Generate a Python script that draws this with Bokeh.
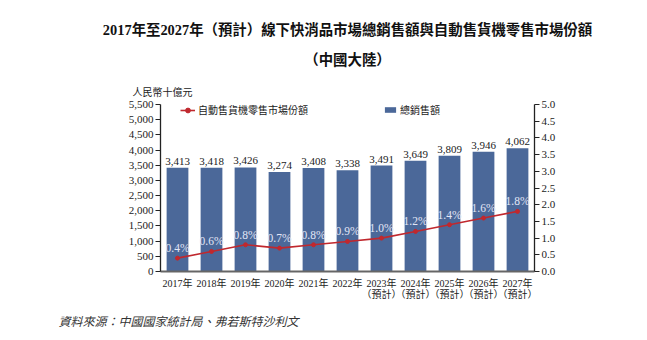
from bokeh.plotting import figure
from bokeh.models import (Range1d, LinearAxis, Title, Legend, LegendItem,
                          ColumnDataSource, FixedTicker, NumeralTickFormatter)
from bokeh.core.properties import value
from bokeh.embed import file_html
from bokeh.resources import INLINE

# ---- data ----
years = ["2017年", "2018年", "2019年", "2020年", "2021年", "2022年",
         "2023年", "2024年", "2025年", "2026年", "2027年"]
forecast = [False, False, False, False, False, False, True, True, True, True, True]
sales = [3413, 3418, 3426, 3274, 3408, 3338, 3491, 3649, 3809, 3946, 4062]
share = [0.4, 0.6, 0.8, 0.7, 0.8, 0.9, 1.0, 1.2, 1.4, 1.6, 1.8]
left_ticks = [0, 500, 1000, 1500, 2000, 2500, 3000, 3500, 4000, 4500, 5000, 5500]
right_ticks = [0, 0.5, 1.0, 1.5, 2.0, 2.5, 3.0, 3.5, 4.0, 4.5, 5.0]

title1 = "2017年至2027年（預計）線下快消品市場總銷售額與自動售貨機零售市場份額"
title2 = "（中國大陸）"
unit_label = "人民幣十億元"
source_note = "資料來源：中國國家統計局、弗若斯特沙利文"
bar_name = "總銷售額"
line_name = "自動售貨機零售市場份額"

SERIF = "Liberation Serif, Noto Sans CJK TC"
BAR_COLOR = "#4b6899"
LINE_COLOR = "#c0282e"

xs = list(range(len(years)))
src = ColumnDataSource(dict(
    x=xs, sales=sales, share=share,
    sales_txt=[f"{v:,}" for v in sales],
    share_txt=[f"{v:.1f}%" for v in share],
))

p = figure(width=647, height=340, output_backend="svg", toolbar_location=None,
           x_range=Range1d(-0.5, len(years) - 0.5), y_range=Range1d(0, 5500),
           min_border_left=160, min_border_right=113,
           min_border_top=104, min_border_bottom=69)
p.outline_line_color = None
p.grid.visible = False
p.background_fill_color = "white"
p.border_fill_color = "white"

p.extra_y_ranges = {"pct": Range1d(0, 5.0)}

bars = p.vbar(x="x", top="sales", width=0.64, source=src,
              fill_color=BAR_COLOR, line_color=None)
line = p.line(x="x", y="share", source=src, y_range_name="pct",
              line_color=LINE_COLOR, line_width=1.6)
pts = p.scatter(x="x", y="share", source=src, y_range_name="pct",
                size=4, fill_color=LINE_COLOR, line_color=LINE_COLOR)

p.text(x="x", y="sales", text="sales_txt", source=src,
       text_font=value("Liberation Serif"), text_font_size="11px",
       text_color="#222222", text_align="center", text_baseline="bottom",
       y_offset=-3)
p.text(x="x", y="share", text="share_txt", source=src, y_range_name="pct",
       text_font=value("Liberation Serif"), text_font_size="11.5px",
       text_color="#e2e6f6", text_align="center", text_baseline="bottom",
       y_offset=-4)

# axes
xa = p.xaxis[0]
xa.ticker = FixedTicker(ticks=xs)
xa.major_label_overrides = {i: (y + "\n（預計）" if f else y)
                            for i, (y, f) in enumerate(zip(years, forecast))}
xa.major_tick_line_color = None
xa.minor_tick_line_color = None
xa.axis_line_color = "#666666"
xa.axis_line_width = 2
xa.major_label_text_font = SERIF
xa.major_label_text_font_size = "10px"
xa.major_label_text_line_height = 1.0
xa.major_label_text_color = "#222222"
xa.major_label_standoff = 0

ya = p.yaxis[0]
ya.ticker = FixedTicker(ticks=left_ticks)
ya.formatter = NumeralTickFormatter(format="0,0")
ya.minor_tick_line_color = None
ya.major_tick_in = 0
ya.major_tick_out = 5
ya.axis_line_color = "#222222"
ya.major_tick_line_color = "#222222"
ya.axis_line_width = 1.3
ya.major_label_text_font = SERIF
ya.major_label_text_font_size = "11px"
ya.major_label_text_color = "#222222"
ya.major_label_standoff = 2

ra = LinearAxis(y_range_name="pct", ticker=FixedTicker(ticks=right_ticks),
                formatter=NumeralTickFormatter(format="0.0"))
ra.minor_tick_line_color = None
ra.major_tick_in = 0
ra.major_tick_out = 5
ra.axis_line_color = "#222222"
ra.major_tick_line_color = "#222222"
ra.axis_line_width = 1.3
ra.major_label_text_font = SERIF
ra.major_label_text_font_size = "11px"
ra.major_label_text_color = "#222222"
ra.major_label_standoff = 2
p.add_layout(ra, "right")

# legends (inside the frame)
leg1 = Legend(items=[LegendItem(label=line_name, renderers=[line, pts])],
              location=(20, 154), orientation="horizontal",
              border_line_color=None, background_fill_alpha=0,
              padding=0, margin=0, spacing=0, label_standoff=3,
              glyph_width=15, glyph_height=12,
              label_text_font=SERIF, label_text_font_size="10px",
              label_text_color="#222222")
leg2 = Legend(items=[LegendItem(label=bar_name, renderers=[bars])],
              location=(223, 154), orientation="horizontal",
              border_line_color=None, background_fill_alpha=0,
              padding=0, margin=0, spacing=0, label_standoff=3,
              glyph_width=14, glyph_height=7,
              label_text_font=SERIF, label_text_font_size="10px",
              label_text_color="#222222")
p.add_layout(leg1)
p.add_layout(leg2)

# titles (later-added goes further from the frame)
p.add_layout(Title(text=unit_label, align="left", offset=-28,
                   text_font=SERIF, text_font_size="10px",
                   text_font_style="normal", text_color="#222222",
                   standoff=14), "above")
p.add_layout(Title(text=title2, align="center", offset=-5,
                   text_font=SERIF, text_font_size="14.4px",
                   text_font_style="bold", text_color="#111111",
                   standoff=19), "above")
p.add_layout(Title(text=title1, align="center", offset=-5,
                   text_font=SERIF, text_font_size="14.4px",
                   text_font_style="bold", text_color="#111111",
                   standoff=5), "above")
p.add_layout(Title(text=source_note, align="left", offset=-102,
                   text_font=SERIF, text_font_size="12px",
                   text_font_style="italic", text_color="#333333",
                   standoff=21), "below")

open("out.html", "w").write(file_html(p, INLINE))
